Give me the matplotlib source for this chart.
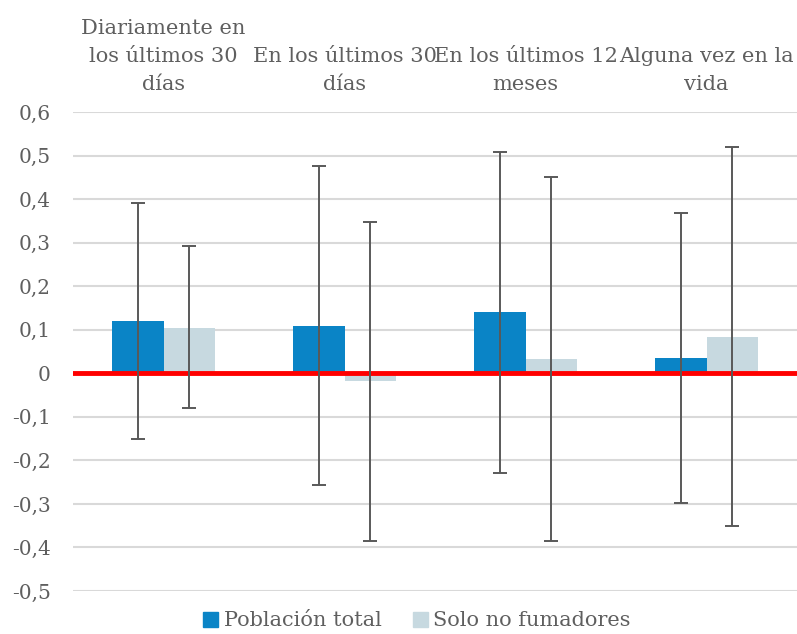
import matplotlib
matplotlib.use("Agg")
import matplotlib.pyplot as plt
import numpy as np
from matplotlib.patches import Patch
from matplotlib.ticker import FuncFormatter

# categories (shown above the plot)
categories = ["Diariamente en\nlos últimos 30\ndías",
              "En los últimos 30\ndías",
              "En los últimos 12\nmeses",
              "Alguna vez en la\nvida"]

# point estimates
total = [0.119, 0.109, 0.140, 0.035]
no_fum = [0.104, -0.017, 0.033, 0.084]

# confidence intervals (lower, upper)
total_lo = [-0.152, -0.257, -0.230, -0.298]
total_hi = [0.390, 0.476, 0.508, 0.368]
no_fum_lo = [-0.080, -0.385, -0.385, -0.350]
no_fum_hi = [0.292, 0.347, 0.451, 0.520]

C_TOTAL = "#0A84C6"
C_NOFUM = "#C7D9E0"
C_TEXT = "#5f5f5f"

plt.rcParams["font.family"] = "DejaVu Serif"

fig = plt.figure(figsize=(7.97, 6.34), dpi=100)
ax = fig.add_axes([0.0916, 0.0678, 0.9084, 0.7555])

x = np.arange(len(categories))
w = 0.285

t = np.array(total)
n = np.array(no_fum)
ax.bar(x - w / 2, t, w, color=C_TOTAL, zorder=2)
ax.bar(x + w / 2, n, w, color=C_NOFUM, zorder=2)

err_kw = dict(fmt="none", ecolor="#595959", elinewidth=1.4, capsize=5, capthick=1.4, zorder=4)
ax.errorbar(x - w / 2, t, yerr=[t - np.array(total_lo), np.array(total_hi) - t], **err_kw)
ax.errorbar(x + w / 2, n, yerr=[n - np.array(no_fum_lo), np.array(no_fum_hi) - n], **err_kw)

ax.axhline(0, color="#FF0000", lw=3.5, zorder=3)

ax.set_xlim(-0.5, 3.5)
ax.set_ylim(-0.5, 0.6)
ax.set_yticks(np.arange(-0.5, 0.61, 0.1))
ax.yaxis.set_major_formatter(FuncFormatter(
    lambda v, p: "0" if abs(v) < 1e-9 else f"{v:.1f}".replace(".", ",")))
ax.grid(axis="y", color="#D9D9D9", lw=1.5, zorder=0)
ax.set_axisbelow(True)

for s in ax.spines.values():
    s.set_visible(False)

ax.tick_params(axis="y", length=0, pad=16, labelsize=14.5, labelcolor=C_TEXT)
ax.xaxis.tick_top()
ax.set_xticks(x)
ax.set_xticklabels(categories, fontsize=15, color=C_TEXT, linespacing=1.6)
ax.tick_params(axis="x", length=0, pad=13)

handles = [Patch(color=C_TOTAL, label="Población total"),
           Patch(color=C_NOFUM, label="Solo no fumadores")]
fig.legend(handles=handles, loc="lower center", bbox_to_anchor=(0.523, -0.024), ncol=2,
           frameon=False, fontsize=15, labelcolor=C_TEXT, handlelength=0.75,
           handleheight=0.75, handletextpad=0.25, columnspacing=1.5)

fig.savefig("out.png", dpi=100)
